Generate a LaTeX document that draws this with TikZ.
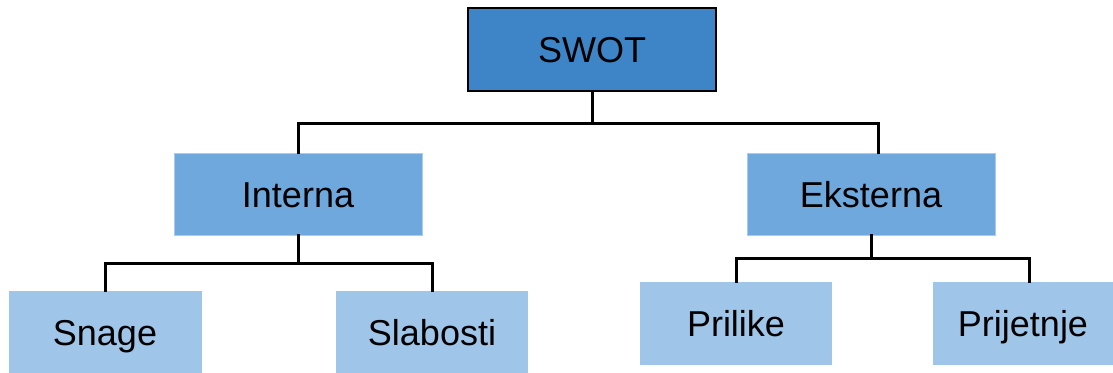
\documentclass[tikz,border=0pt]{standalone}
\usepackage{fontspec}
\setmainfont{Liberation Sans}
\definecolor{topblue}{HTML}{3D85C6}
\definecolor{midblue}{HTML}{6FA8DC}
\definecolor{midedge}{HTML}{A9CBEF}
\definecolor{leafblue}{HTML}{9FC5E8}
\begin{document}
\begin{tikzpicture}[x=1pt,y=-1pt,
  boxbase/.style={rectangle, inner sep=0pt, font=\fontsize{36}{40}\selectfont, text=black, text height=26pt, text depth=0pt},
  topbox/.style={boxbase, fill=topblue, draw=black, line width=2pt},
  midbox/.style={boxbase, fill=midblue, draw=midedge, line width=1pt},
  leafbox/.style={boxbase, fill=leafblue},
  conn/.style={draw=black, line width=3pt, line cap=rect}]
\useasboundingbox (0,0) rectangle (1113,372);
\node[topbox, minimum width=248pt, minimum height=83pt] (swot) at (592,49.5) {SWOT};
\node[midbox, minimum width=248pt, minimum height=82pt] (int) at (298,194) {Interna};
\node[midbox, minimum width=248pt, minimum height=82pt] (ext) at (871,194) {Eksterna};
\node[leafbox, minimum width=193pt, minimum height=83pt] (snage) at (105,332.5) {Snage};
\node[leafbox, minimum width=192pt, minimum height=83pt] (slab) at (432,332.5) {Slabosti};
\node[leafbox, minimum width=192pt, minimum height=83pt] (pril) at (736,323.5) {Prilike};
\node[leafbox, minimum width=180pt, minimum height=83pt] (prij) at (1023,323.5) {Prijetnje};
\coordinate (bartop) at (0,123);
\coordinate (barint) at (0,263);
\coordinate (barext) at (0,258);
% top level
\draw[conn] (swot.south) -- (swot.south |- bartop);
\draw[conn] (int.north) |- ([xshift=7pt]ext.north |- bartop) -- ([xshift=7pt]ext.north);
% Interna
\draw[conn] (int.south) -- (int.south |- barint);
\draw[conn] (snage.north) |- (slab.north |- barint) -- (slab.north);
% Eksterna
\draw[conn] (ext.south) -- (ext.south |- barext);
\draw[conn] (pril.north) |- ([xshift=6pt]prij.north |- barext) -- ([xshift=6pt]prij.north);
\end{tikzpicture}
\end{document}
